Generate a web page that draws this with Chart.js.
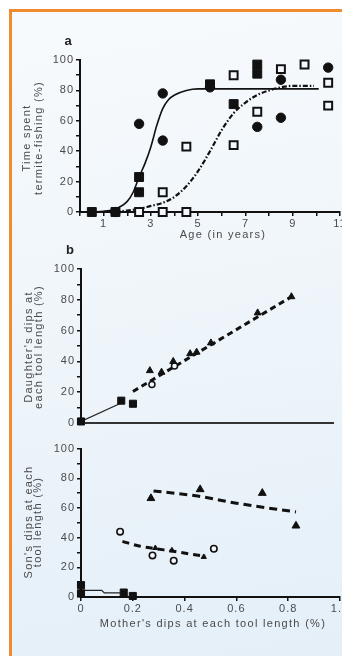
<!DOCTYPE html>
<html>
<head>
<meta charset="utf-8">
<script src="https://cdn.jsdelivr.net/npm/chart.js@4.4.0/dist/chart.umd.min.js"></script>
<style>
  html, body { margin: 0; padding: 0; width: 342px; height: 656px; overflow: hidden; background: #fff; }
  #frame {
    position: absolute; left: 9px; top: 9px; width: 333px; height: 647px;
    border-left: 3px solid #f28a2e; border-top: 3px solid #f28a2e;
    background: linear-gradient(170deg, #f7fafd 0%, #eef5fa 50%, #e4eff8 100%);
  }
  canvas { position: absolute; left: 0; }
</style>
</head>
<body>
<div id="frame"></div>
<canvas id="chartA" width="362" height="250" style="top:0px"></canvas>
<canvas id="chartB" width="342" height="200" style="top:240px"></canvas>
<canvas id="chartC" width="362" height="216" style="top:440px"></canvas>
<script>
// ---- panel a : age vs time spent termite-fishing ----
const filledCircleAge = [1.5, 2.5, 3.5, 3.5, 5.5, 7.5, 8.5, 8.5, 10.5];
const filledCircleTime = [0, 58, 78, 47, 82, 56, 87, 62, 95];
const filledSquareAge = [0.5, 1.5, 2.5, 2.5, 5.5, 6.5, 7.5, 7.5];
const filledSquareTime = [0, 0, 23, 13, 84, 71, 97, 91];
const openSquareAge = [2.5, 3.5, 4.5, 3.5, 4.5, 6.5, 6.5, 7.5, 8.5, 9.5, 10.5, 10.5];
const openSquareTime = [0, 0, 0, 13, 43, 90, 44, 66, 94, 97, 85, 70];
const solidCurveAge = [0, 1, 1.5, 2, 2.25, 2.5, 2.75, 3, 3.25, 3.5, 3.75, 4, 4.5, 5, 6, 8, 10.1];
const solidCurveTime = [0, 0.5, 2, 7, 13, 23, 32, 43, 57, 68, 74, 77, 80, 81, 81, 81, 81];
const dashCurveAge = [1.5, 2, 2.5, 3, 3.5, 4, 4.5, 5, 5.5, 6, 6.5, 7, 7.5, 8, 8.5, 9, 9.5, 9.9];
const dashCurveTime = [0, 1, 2, 4, 6, 10, 17, 27, 40, 54, 65, 72, 77, 80, 82, 83, 83, 83];

// ---- panel b : mother's vs daughter's dips ----
const bSquareX = [0, 0.155, 0.2];
const bSquareY = [1, 14.5, 12.5];
const bTriangleX = [0.265, 0.31, 0.355, 0.42, 0.445, 0.5, 0.68, 0.81];
const bTriangleY = [34, 33, 40, 45, 46, 52, 71.5, 82];
const bCircleX = [0.273, 0.36];
const bCircleY = [25, 37];
const bJoinX = [0, 0.155];
const bJoinY = [1, 13];
const bFitX = [0.2, 0.81];
const bFitY = [20.5, 82];

// ---- panel c : mother's vs son's dips ----
const cSquareX = [0, 0, 0.165, 0.2];
const cSquareY = [8, 2.5, 3, 0.7];
const cStepX = [0, 0.08, 0.09, 0.165];
const cStepY = [4.5, 4.5, 2.8, 2.8];
const cTriangleX = [0.27, 0.46, 0.70, 0.83];
const cTriangleY = [66.5, 72.5, 70, 48];
const cUpperFitX = [0.28, 0.45, 0.6, 0.83];
const cUpperFitY = [71.5, 68, 63.2, 57.3];
const cOpenX = [0.151, 0.276, 0.358, 0.513];
const cOpenY = [44, 28, 24.5, 32.5];
const cSmallX = [0.287, 0.351, 0.474];
const cSmallY = [33, 31.5, 27];
const cLowerFitX = [0.16, 0.22, 0.29, 0.35, 0.42, 0.48];
const cLowerFitY = [37.5, 34.5, 32.5, 31, 29, 27.5];

const pts = (xs, ys) => xs.map((x, i) => ({ x: x, y: ys[i] }));

Chart.defaults.font.family = '"Liberation Sans", Arial, sans-serif';
Chart.defaults.font.size = 11;
Chart.defaults.color = '#4a4a4a';
Chart.defaults.animation = false;

const BG = '#f4f8fc';

// text drawn on top of each panel (titles, letters)
function textPlugin(items) {
  return {
    id: 'panelText',
    beforeDraw(chart) {
      chart.ctx.letterSpacing = '1px';
    },
    afterDraw(chart) {
      const c = chart.ctx;
      items.forEach(t => {
        c.save();
        c.font = t.font || '11px "Liberation Sans", Arial, sans-serif';
        c.fillStyle = t.color || '#4a4a4a';
        c.letterSpacing = t.spacing || '1.3px';
        c.textAlign = 'center';
        c.textBaseline = 'middle';
        c.translate(t.x, t.y);
        if (t.rotate) c.rotate(-Math.PI / 2);
        c.fillText(t.text, 0, 0);
        c.restore();
      });
    }
  };
}

function yAxis(width) {
  return {
    min: 0, max: 100,
    afterFit: (s) => { s.width = width; },
    ticks: {
      stepSize: 10, autoSkip: false, padding: 2,
      callback: (v) => (v % 20 === 0 ? v : '')
    },
    grid: { drawOnChartArea: false, tickLength: 4, color: '#111', lineWidth: 1.5 },
    border: { color: '#111', width: 2 }
  };
}

// ---------------- panel a ----------------
new Chart(document.getElementById('chartA'), {
  type: 'scatter',
  data: {
    datasets: [
      { data: pts(filledCircleAge, filledCircleTime), pointStyle: 'circle', pointRadius: 4.7,
        backgroundColor: '#111', borderColor: '#111', clip: false },
      { data: pts(filledSquareAge, filledSquareTime), pointStyle: 'rect', pointRadius: 6.3,
        backgroundColor: '#111', borderColor: '#111', clip: false },
      { data: pts(openSquareAge, openSquareTime), pointStyle: 'rect', pointRadius: 5.6,
        backgroundColor: BG, borderColor: '#111', borderWidth: 2, clip: false },
      { data: pts(solidCurveAge, solidCurveTime), showLine: true, pointRadius: 0,
        borderColor: '#111', borderWidth: 1.6, cubicInterpolationMode: 'monotone' },
      { data: pts(dashCurveAge, dashCurveTime), showLine: true, pointRadius: 0,
        borderColor: '#111', borderWidth: 2.2, borderDash: [5, 2, 1.5, 2], cubicInterpolationMode: 'monotone' }
    ]
  },
  options: {
    responsive: false,
    layout: { padding: { top: 60, right: 22, left: 0, bottom: 0 } },
    plugins: { legend: { display: false }, tooltip: { enabled: false } },
    scales: {
      x: {
        type: 'linear', min: 0, max: 11,
        afterFit: (s) => { s.height = 38; },
        ticks: {
          stepSize: 1, autoSkip: false, maxRotation: 0, padding: 1,
          callback: (v) => (v % 2 === 1 ? v : '')
        },
        grid: { drawOnChartArea: false, tickLength: 4, color: '#111', lineWidth: 1.5 },
        border: { color: '#111', width: 2 }
      },
      y: yAxis(80)
    }
  },
  plugins: [textPlugin([
    { text: 'a', x: 68, y: 41, font: 'bold 13px "Liberation Sans", Arial, sans-serif', color: '#222', spacing: '0px' },
    { text: 'Age (in years)', x: 223, y: 235 },
    { text: 'Time spent', x: 27, y: 138, rotate: true },
    { text: 'termite-fishing (%)', x: 39, y: 138, rotate: true }
  ])]
});

// ---------------- panel b ----------------
new Chart(document.getElementById('chartB'), {
  type: 'scatter',
  data: {
    datasets: [
      { data: pts(bSquareX, bSquareY), pointStyle: 'rect', pointRadius: 5,
        backgroundColor: '#111', borderColor: '#111', clip: false },
      { data: pts(bTriangleX, bTriangleY), pointStyle: 'triangle', pointRadius: 4,
        backgroundColor: '#111', borderColor: '#111', clip: false },
      { data: pts(bCircleX, bCircleY), pointStyle: 'circle', pointRadius: 3,
        backgroundColor: BG, borderColor: '#111', borderWidth: 1.5, clip: false },
      { data: pts(bJoinX, bJoinY), showLine: true, pointRadius: 0,
        borderColor: '#222', borderWidth: 1.3 },
      { data: pts(bFitX, bFitY), showLine: true, pointRadius: 0,
        borderColor: '#111', borderWidth: 3, borderDash: [6, 4] }
    ]
  },
  options: {
    responsive: false,
    layout: { padding: { top: 29, right: 9, left: 0, bottom: 0 } },
    plugins: { legend: { display: false }, tooltip: { enabled: false } },
    scales: {
      x: {
        type: 'linear', min: 0, max: 0.97,
        afterFit: (s) => { s.height = 17; },
        ticks: { display: false },
        grid: { display: false },
        border: { color: '#333', width: 2 }
      },
      y: yAxis(81)
    }
  },
  plugins: [textPlugin([
    { text: 'b', x: 70, y: 10, font: 'bold 13px "Liberation Sans", Arial, sans-serif', color: '#222', spacing: '0px' },
    { text: "Daughter's dips at", x: 29, y: 107, rotate: true },
    { text: 'each tool length (%)', x: 39, y: 107, rotate: true }
  ])]
});

// ---------------- panel c ----------------
new Chart(document.getElementById('chartC'), {
  type: 'scatter',
  data: {
    datasets: [
      { data: pts(cSquareX, cSquareY), pointStyle: 'rect', pointRadius: 5,
        backgroundColor: '#111', borderColor: '#111', clip: false },
      { data: pts(cTriangleX, cTriangleY), pointStyle: 'triangle', pointRadius: 4.5,
        backgroundColor: '#111', borderColor: '#111', clip: false },
      { data: pts(cOpenX, cOpenY), pointStyle: 'circle', pointRadius: 3.2,
        backgroundColor: BG, borderColor: '#111', borderWidth: 1.6, clip: false },
      { data: pts(cSmallX, cSmallY), pointStyle: 'triangle', pointRadius: 3,
        backgroundColor: '#111', borderColor: '#111', clip: false },
      { data: pts(cStepX, cStepY), showLine: true, pointRadius: 0,
        borderColor: '#222', borderWidth: 1.3 },
      { data: pts(cUpperFitX, cUpperFitY), showLine: true, pointRadius: 0,
        borderColor: '#111', borderWidth: 3, borderDash: [8, 5], cubicInterpolationMode: 'monotone' },
      { data: pts(cLowerFitX, cLowerFitY), showLine: true, pointRadius: 0,
        borderColor: '#111', borderWidth: 3, borderDash: [7, 5], cubicInterpolationMode: 'monotone' }
    ]
  },
  options: {
    responsive: false,
    layout: { padding: { top: 8, right: 22, left: 0, bottom: 0 } },
    plugins: { legend: { display: false }, tooltip: { enabled: false } },
    scales: {
      x: {
        type: 'linear', min: 0, max: 1,
        afterFit: (s) => { s.height = 59; },
        ticks: { stepSize: 0.2, autoSkip: false, maxRotation: 0, padding: 1 },
        grid: { drawOnChartArea: false, tickLength: 4, color: '#111', lineWidth: 1.5 },
        border: { color: '#111', width: 2 }
      },
      y: yAxis(81)
    }
  },
  plugins: [textPlugin([
    { text: "Son's dips at each", x: 29, y: 82, rotate: true },
    { text: 'tool length (%)', x: 38, y: 82, rotate: true },
    { text: "Mother's dips at each tool length (%)", x: 213, y: 184 }
  ])]
});
</script>
</body>
</html>
